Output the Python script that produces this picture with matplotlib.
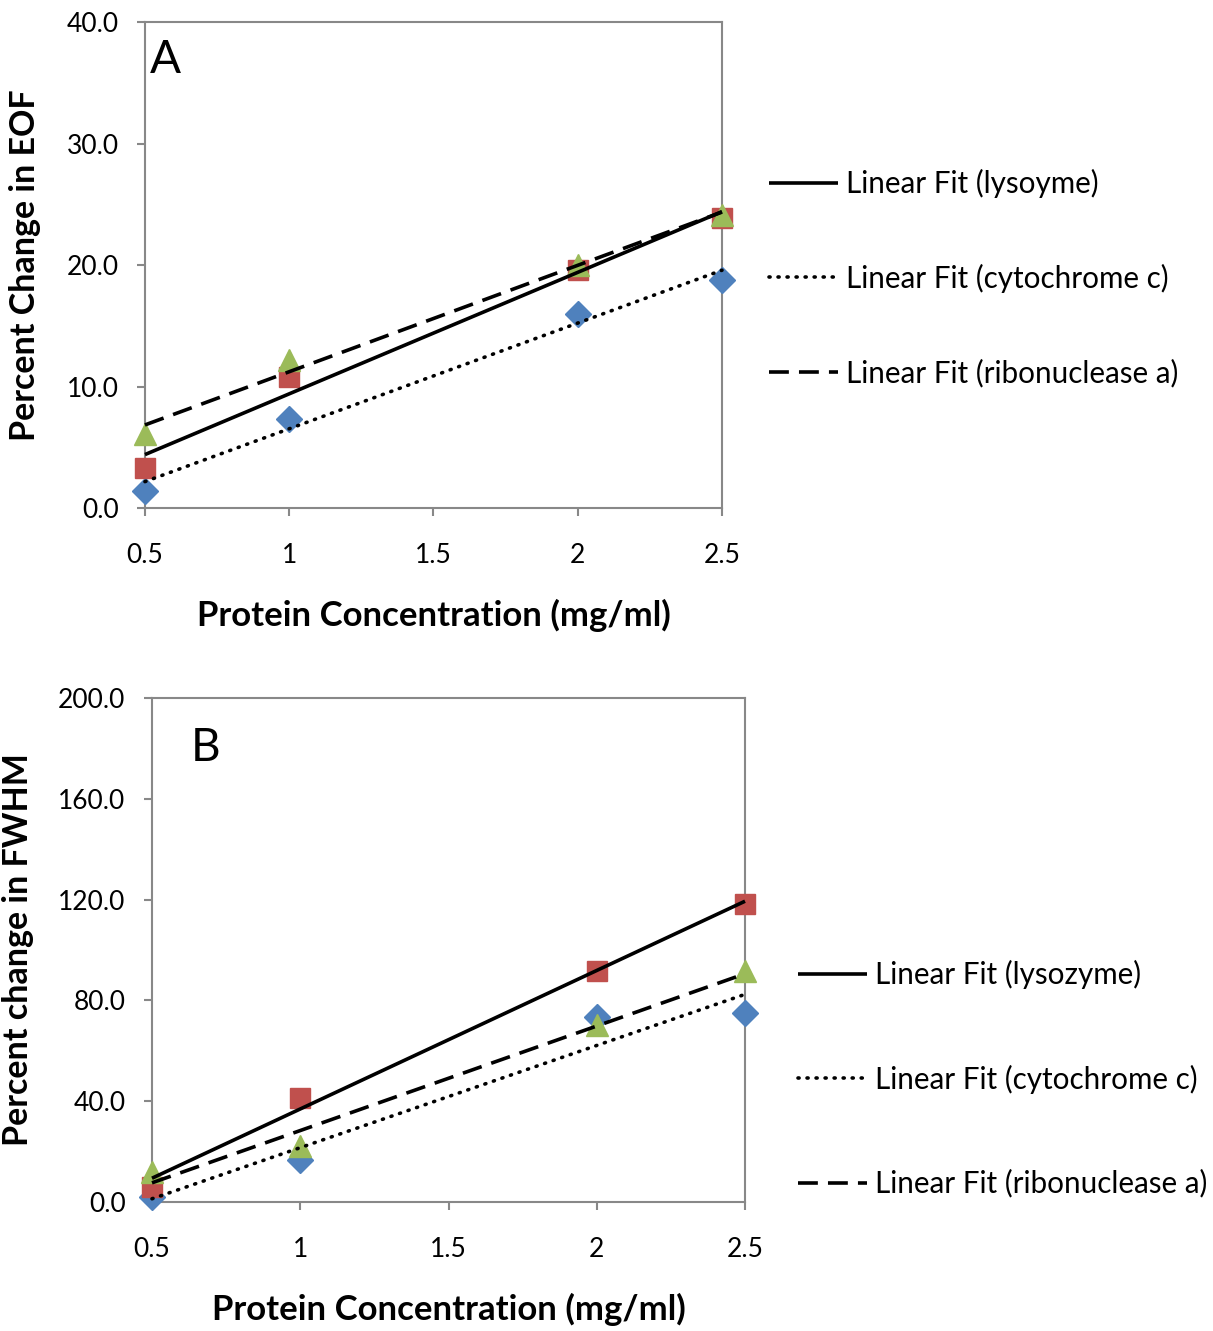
import numpy as np
import matplotlib
matplotlib.use("Agg")
import matplotlib.pyplot as plt

plt.rcParams['font.family'] = ['Lato', 'DejaVu Sans']

# Protein concentrations (mg/ml)
conc = [0.5, 1.0, 2.0, 2.5]
x_ticks = [0.5, 1.0, 1.5, 2.0, 2.5]
x_ticklabels = ["0.5", "1", "1.5", "2", "2.5"]

# Panel A: percent change in EOF
eof_cytochrome = [1.4, 7.3, 16.0, 18.8]
eof_lysozyme = [3.3, 10.8, 19.6, 23.9]
eof_ribonuclease = [6.1, 12.2, 20.0, 24.1]

# Panel B: percent change in FWHM
fwhm_cytochrome = [2.1, 16.7, 73.5, 75.1]
fwhm_lysozyme = [6.1, 41.4, 91.8, 118.3]
fwhm_ribonuclease = [12.0, 22.4, 70.2, 91.8]

legend_a = ["Linear Fit (lysoyme)", "Linear Fit (cytochrome c)", "Linear Fit (ribonuclease a)"]
legend_b = ["Linear Fit (lysozyme)", "Linear Fit (cytochrome c)", "Linear Fit (ribonuclease a)"]

BLUE = "#4F81BD"
RED = "#C0504D"
GREEN = "#9BBB59"
GREY = "#888888"

fig = plt.figure(figsize=(12.13, 13.31), dpi=100)

FIT_STYLES = [
    ("-", "butt"),                 # lysozyme
    ((0, (0.3, 2.2)), "round"),    # cytochrome c
    ((0, (5.5, 2.8)), "butt"),     # ribonuclease a
]


def panel(rect, cyto, lyso, ribo, ylim, yticks, ylabel, letter, letter_pos,
          xlabel_xy, ylabel_xy, labels, legend_anchor, legend_spacing):
    ax = fig.add_axes(rect)
    x = np.array(conc)
    ax.plot(x, cyto, linestyle="none", marker="D", ms=13, color=BLUE,
            zorder=3, clip_on=False)
    ax.plot(x, lyso, linestyle="none", marker="s", ms=14.5, color=RED,
            zorder=3, clip_on=False)
    ax.plot(x, ribo, linestyle="none", marker="^", ms=15.5, color=GREEN,
            zorder=3, clip_on=False)

    xf = np.array([x_ticks[0], x_ticks[-1]])
    handles = []
    for y, (ls, cap) in zip((lyso, cyto, ribo), FIT_STYLES):
        k, b = np.polyfit(x, y, 1)
        ln, = ax.plot(xf, k * xf + b, color="black", lw=2.6, linestyle=ls,
                      zorder=4, solid_capstyle="butt", dash_capstyle=cap,
                      clip_on=False)
        handles.append(ln)

    ax.set_xlim(x_ticks[0], x_ticks[-1])
    ax.set_ylim(*ylim)
    ax.set_xticks(x_ticks)
    ax.set_xticklabels(x_ticklabels)
    ax.set_yticks(yticks)
    ax.set_yticklabels([f"{v:.1f}" for v in yticks])
    for s in ax.spines.values():
        s.set_color(GREY)
        s.set_linewidth(1.5)
    ax.tick_params(axis="both", direction="out", length=6, width=1.5,
                   color=GREY, labelsize=19, labelcolor="black")
    ax.tick_params(axis="x", pad=19)
    ax.tick_params(axis="y", pad=13)

    ax.set_ylabel(ylabel, fontsize=24.5, fontweight="bold", va="center")
    ax.yaxis.set_label_coords(*ylabel_xy)
    ax.set_xlabel("Protein Concentration (mg/ml)", fontsize=25,
                  fontweight="bold", va="center")
    ax.xaxis.set_label_coords(*xlabel_xy)

    ax.text(letter_pos[0], letter_pos[1], letter, transform=ax.transAxes,
            fontsize=33, ha="left", va="center")

    fig.legend(handles, labels, loc="center left", bbox_to_anchor=legend_anchor,
               frameon=False, fontsize=21.3, handlelength=2.33,
               handletextpad=0.27, labelspacing=legend_spacing,
               borderaxespad=0)
    return ax


panel([0.1195, 0.6183, 0.4757, 0.3651], eof_cytochrome, eof_lysozyme,
      eof_ribonuclease, (0, 40), [0, 10, 20, 30, 40],
      "Percent Change in EOF", "A", (0.008, 0.922),
      (0.5, -0.220), (-0.208, 0.5), legend_a, (0.624, 0.7911), 2.22)

panel([0.1253, 0.0969, 0.4889, 0.3787], fwhm_cytochrome, fwhm_lysozyme,
      fwhm_ribonuclease, (0, 200), [0, 40, 80, 120, 160, 200],
      "Percent change in FWHM", "B", (0.066, 0.901),
      (0.5, -0.214), (-0.226, 0.5), legend_b, (0.648, 0.1893), 2.55)

fig.savefig("out.png", dpi=100)
